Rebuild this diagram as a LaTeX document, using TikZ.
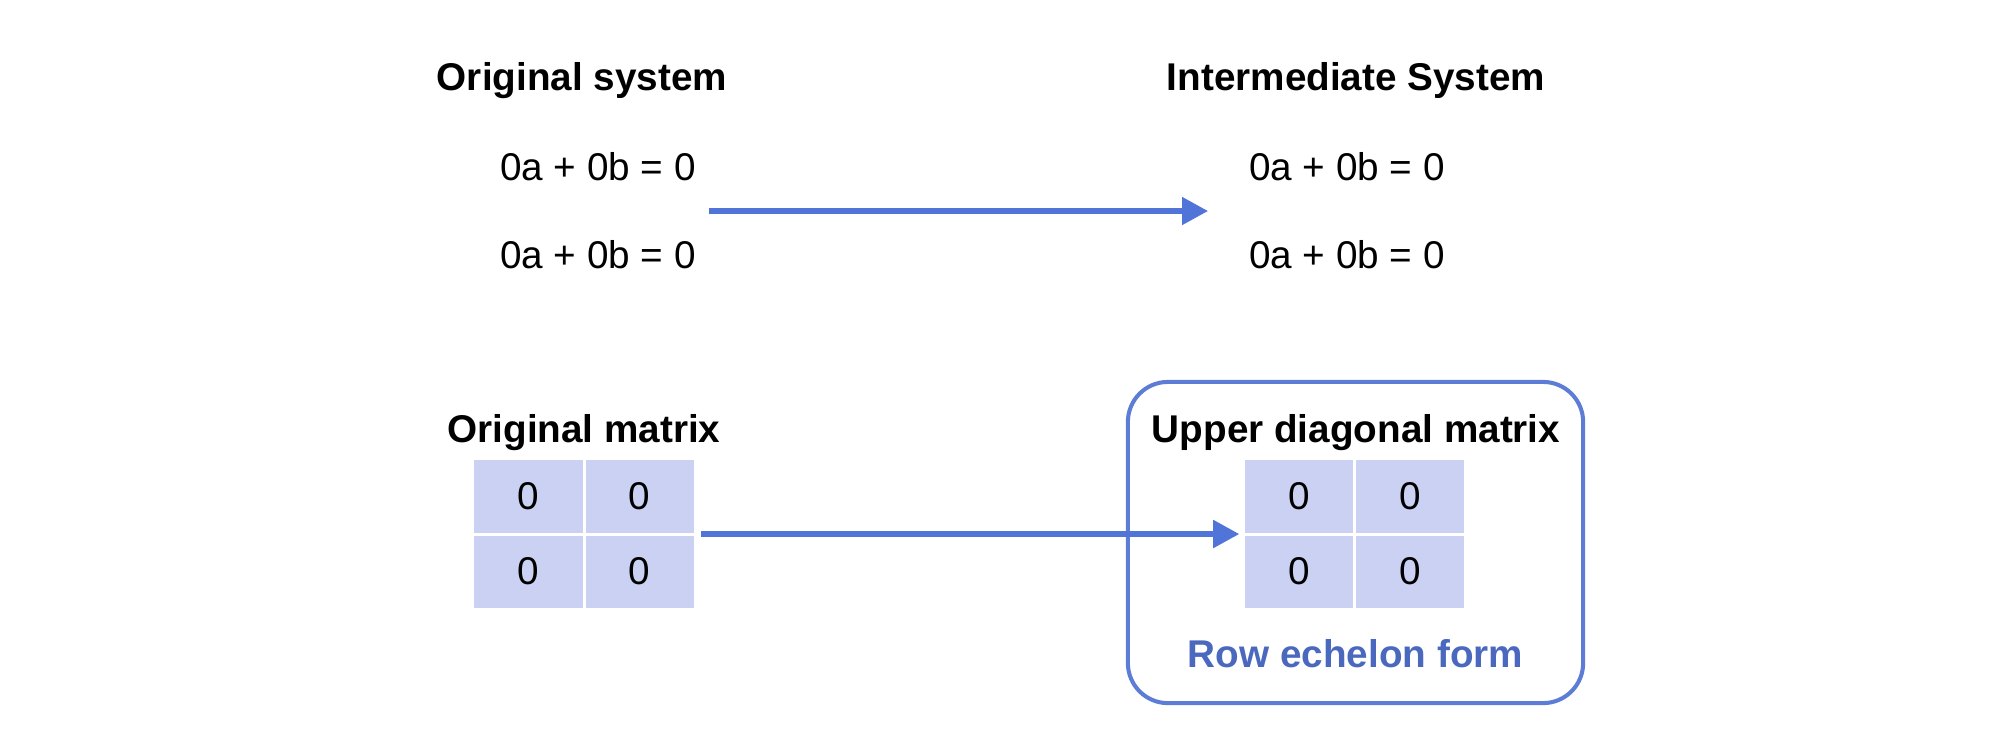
\documentclass[tikz,border=0pt]{standalone}
\usepackage{fontspec}
\setmainfont{Liberation Sans}
\usetikzlibrary{positioning,matrix,arrows.meta}
\definecolor{flowblue}{RGB}{80,116,216}
\definecolor{boxblue}{RGB}{92,124,214}
\definecolor{echblue}{RGB}{74,104,190}
\definecolor{cellfill}{RGB}{202,209,242}

\begin{document}
\begin{tikzpicture}[x=0.01cm, y=-0.01cm, font=\fontsize{11pt}{13pt}\selectfont,
    title/.style = {font=\fontsize{11pt}{13pt}\selectfont\bfseries, anchor=base, inner sep=0},
    eqn/.style   = {anchor=base, inner sep=0},
    cell/.style  = {fill=cellfill, minimum width=1.08cm, minimum height=0.72cm, inner sep=0},
    zmat/.style  = {matrix of nodes, nodes={cell}, column sep=0.03cm, row sep=0.03cm, inner sep=0},
    echbox/.style = {draw=boxblue, line width=1.15pt, rounded corners=0.4cm, minimum width=4.55cm, minimum height=3.21cm},
    flow/.style  = {draw=flowblue, line width=1.45pt, -{Triangle[length=0.26cm, width=0.27cm]}}]
        \useasboundingbox (0,0) rectangle (2000,744);

        % systems
        \node[title]  (origsys) at (582,90)   {Original system};
        \node[eqn]    (osEqA)   at (598,180)  {0a + 0b = 0};
        \node[eqn]    (osEqB)   at (598,268)  {0a + 0b = 0};
        \node[title]  (intsys)  at (1356,90)  {Intermediate System};
        \node[eqn]    (isEqA)   at (1347,180) {0a + 0b = 0};
        \node[eqn]    (isEqB)   at (1347,268) {0a + 0b = 0};
        \coordinate (topA) at (709,211);
        \coordinate (topB) at (1208,211);

        % matrices
        \node[echbox] (ech) at (1355.5,542.5) {};
        \node[title]  (origmattl) at (584,442)  {Original matrix};
        \matrix[zmat] (origmat)   at (584,534)  {0 & 0 \\ 0 & 0 \\};
        \node[title]  (uppmattl)  at (1356,442) {Upper diagonal matrix};
        \matrix[zmat] (uppmat)    at (1354.5,534) {0 & 0 \\ 0 & 0 \\};
        \node[title, text=echblue] (rowech) at (1355.5,667) {Row echelon form};

        \draw[flow] (topA) -- (topB);
        \draw[flow, shorten <=0.07cm, shorten >=0.05cm] (origmat) -- (uppmat);
\end{tikzpicture}
\end{document}
